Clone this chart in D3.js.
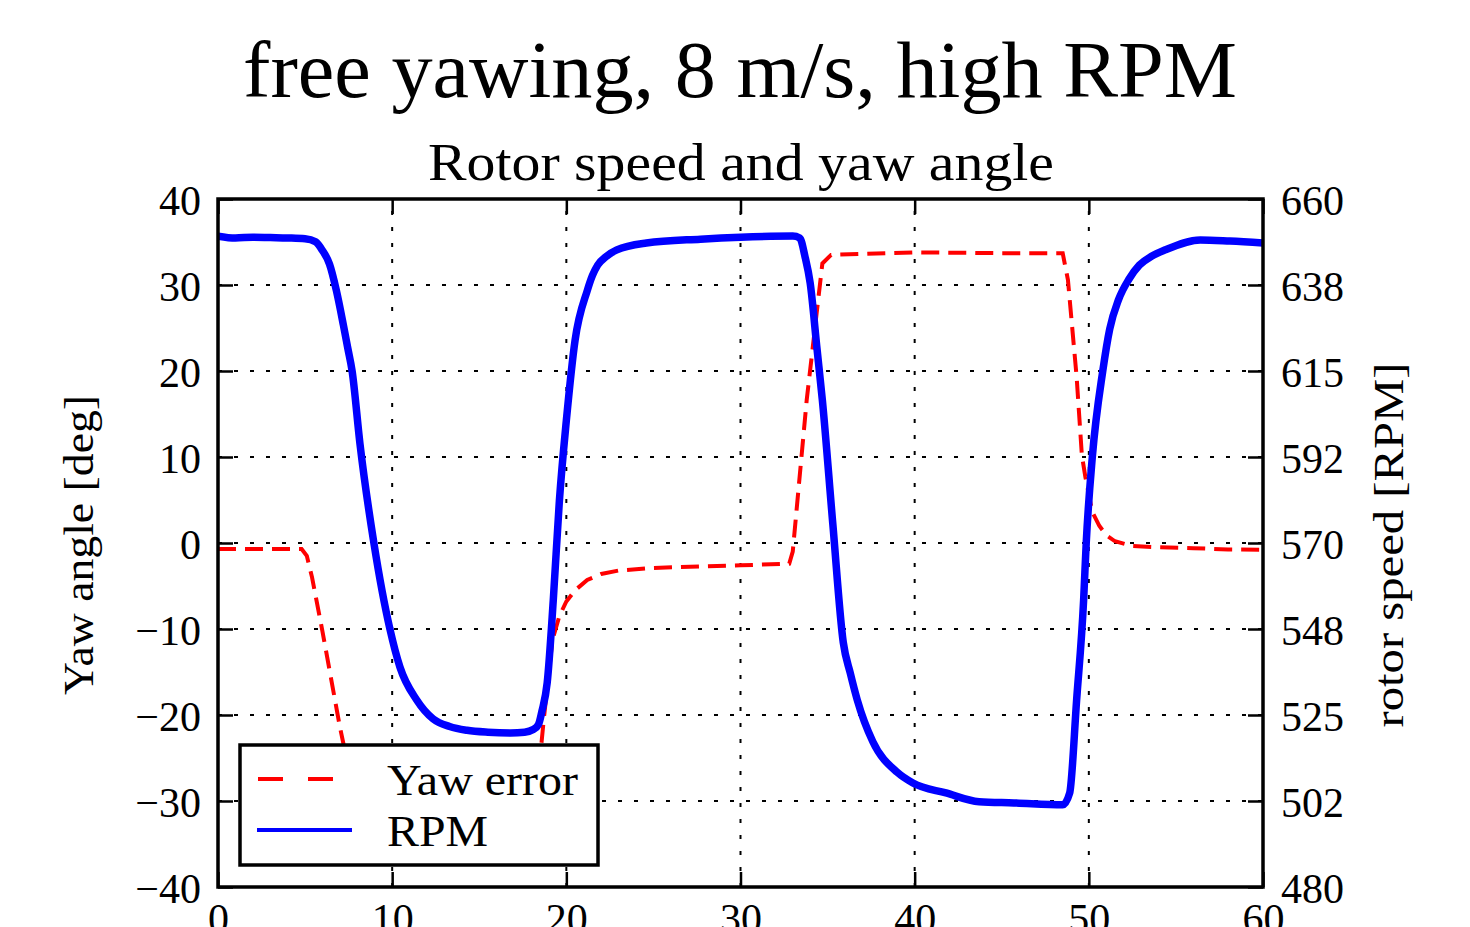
<!DOCTYPE html>
<html>
<head>
<meta charset="utf-8">
<script src="https://cdn.jsdelivr.net/npm/d3@7"></script>
<style>
  html, body { margin: 0; padding: 0; background: #fff; overflow: hidden; }
  svg { display: block; }
  text { font-family: "Liberation Serif", "DejaVu Serif", serif; fill: #000; }
</style>
</head>
<body>
<svg id="chart" width="1470" height="927"></svg>
<script>
// ---------------- data ----------------
const titleText = "free yawing, 8 m/s, high RPM";
const subtitleText = "Rotor speed and yaw angle";
const leftLabel = "Yaw angle [deg]";
const rightLabel = "rotor speed [RPM]";
const seriesNames = ["Yaw error", "RPM"];

const xTicks = [0, 10, 20, 30, 40, 50, 60];
const yLeftTicks = [-40, -30, -20, -10, 0, 10, 20, 30, 40];
const yRightTicks = [480, 502.5, 525, 547.5, 570, 592.5, 615, 637.5, 660];
const yRightTickLabels = ["480", "502", "525", "548", "570", "592", "615", "638", "660"];

// Yaw error [deg] vs time [s]
const yawTime = [0, 4.8, 5.1, 5.4, 6.0, 7.0, 8.0, 8.6, 12, 17.8, 18.3, 18.7, 19.2, 19.6, 20.0, 20.5, 21.2, 22, 23, 25, 28, 30, 32.8, 33.0, 33.8, 34.7, 35.2, 40, 45, 48.5, 48.8, 49.3, 49.6, 49.8, 50.2, 50.6, 51.0, 51.5, 52.5, 54, 56, 58, 60];
const yawValue = [-0.7, -0.7, -1.5, -4, -10.3, -21.4, -31, -33, -33.5, -33.5, -29, -20.6, -11.3, -8.5, -6.8, -5.5, -4.3, -3.6, -3.2, -2.9, -2.7, -2.6, -2.4, -1, 16.6, 32.5, 33.5, 33.8, 33.7, 33.7, 30.6, 19.3, 10.2, 7.7, 3.6, 2.0, 0.9, 0.2, -0.35, -0.5, -0.6, -0.75, -0.8];

// Rotor speed [RPM] vs time [s]
const rpmTime = [0, 1, 2, 3, 4, 5, 5.6, 6.0, 6.4, 6.8, 7.2, 7.45, 7.7, 8.15, 8.95, 9.87, 10.45, 11.4, 12.35, 13.3, 14.3, 15.5, 16.8, 17.6, 18.1, 18.4, 18.6, 18.9, 19.25, 19.6, 20.0, 20.5, 21.2, 21.5, 21.8, 22.3, 22.9, 24.6, 27.7, 30, 33.0, 33.4, 33.7, 34.0, 34.4, 34.7, 35.3, 35.9, 36.3, 36.7, 37.6, 39, 39.9, 41.8, 43.7, 45.7, 48.5, 48.9, 49.3, 49.7, 49.85, 50.2, 50.8, 51.2, 51.7, 52.3, 52.9, 53.6, 54.4, 56.4, 58.1, 60];
const rpmValue = [650.3, 649.8, 650, 649.9, 649.8, 649.6, 648.8, 646.5, 643, 636, 627, 621, 615, 596, 570, 547.5, 537.5, 529, 524, 522, 521, 520.5, 520.3, 520.5, 521.2, 522.5, 526, 533.4, 555, 581, 602, 623, 636, 640, 642.7, 645, 646.7, 648.5, 649.5, 650, 650.3, 649.8, 645, 638, 620.5, 607.4, 575, 544, 536, 529, 518, 510, 507.2, 504.6, 502.3, 502, 501.5, 504.6, 529, 555, 570, 592.5, 615, 626, 633.6, 639, 642.7, 645, 646.7, 649.3, 649, 648.5];

// ---------------- layout ----------------
const svg = d3.select("#chart");
const L = 218, R = 1263, T = 199, B = 887;

const x = d3.scaleLinear().domain([0, 60]).range([L, R]);
const yL = d3.scaleLinear().domain([-40, 40]).range([B, T]);
const yR = d3.scaleLinear().domain([480, 660]).range([B, T]);

const tickFont = 42;
const tickLen = 15;

// Titles
svg.append("text").attr("x", 740).attr("y", 97)
  .attr("text-anchor", "middle").style("font-size", "80px")
  .attr("textLength", 994).attr("lengthAdjust", "spacingAndGlyphs")
  .text(titleText);
svg.append("text").attr("x", 741).attr("y", 180)
  .attr("text-anchor", "middle").style("font-size", "52px")
  .attr("textLength", 626).attr("lengthAdjust", "spacingAndGlyphs")
  .text(subtitleText);

// Clip for plot area
svg.append("clipPath").attr("id", "plotclip")
  .append("rect").attr("x", L).attr("y", T).attr("width", R - L).attr("height", B - T);

// Grid (dotted)
const grid = svg.append("g").attr("stroke", "#000").attr("stroke-width", 2).attr("stroke-dasharray", "4,12");
grid.selectAll("line.gx").data(xTicks.slice(1, -1)).join("line")
  .attr("x1", d => x(d)).attr("x2", d => x(d)).attr("y1", B).attr("y2", T);
grid.selectAll("line.gy").data(yLeftTicks.slice(1, -1)).join("line")
  .attr("y1", d => yL(d)).attr("y2", d => yL(d)).attr("x1", L).attr("x2", R);

// Lines
const plot = svg.append("g").attr("clip-path", "url(#plotclip)");
const yawData = yawTime.map((t, i) => [t, yawValue[i]]);
const rpmData = rpmTime.map((t, i) => [t, rpmValue[i]]);

plot.append("path").datum(yawData)
  .attr("fill", "none").attr("stroke", "#ff0000").attr("stroke-width", 4)
  .attr("stroke-dasharray", "18,9")
  .attr("d", d3.line().x(d => x(d[0])).y(d => yL(d[1])));

plot.append("path").datum(rpmData)
  .attr("fill", "none").attr("stroke", "#0000ff").attr("stroke-width", 7.5)
  .attr("stroke-linejoin", "round")
  .attr("d", d3.line().curve(d3.curveMonotoneX).x(d => x(d[0])).y(d => yR(d[1])));

// Axes with inward ticks
const axB = svg.append("g").attr("transform", `translate(0,${B})`)
  .call(d3.axisBottom(x).tickValues(xTicks).tickSizeInner(-tickLen).tickSizeOuter(0).tickPadding(20));
const axT = svg.append("g").attr("transform", `translate(0,${T})`)
  .call(d3.axisTop(x).tickValues(xTicks).tickSizeInner(-tickLen).tickSizeOuter(0).tickFormat(""));
const axL = svg.append("g").attr("transform", `translate(${L},0)`)
  .call(d3.axisLeft(yL).tickValues(yLeftTicks).tickSizeInner(-tickLen).tickSizeOuter(0)
    .tickFormat(d => d < 0 ? "\u2212" + Math.abs(d) : String(d)));
const axR = svg.append("g").attr("transform", `translate(${R},0)`)
  .call(d3.axisRight(yR).tickValues(yRightTicks).tickSizeInner(-tickLen).tickSizeOuter(0)
    .tickFormat((d, i) => yRightTickLabels[i]));

[axB, axT, axL, axR].forEach(a => {
  a.select(".domain").remove();
  a.selectAll(".tick line").attr("stroke", "#000").attr("stroke-width", 2.5);
  a.selectAll("text").style("font-family", '"Liberation Serif", "DejaVu Serif", serif')
    .style("font-size", tickFont + "px").attr("fill", "#000");
});
axB.selectAll("text").attr("dy", null).attr("y", 46);
axL.selectAll("text").attr("x", -17).attr("dy", "0.36em");
axR.selectAll("text").attr("x", 18).attr("dy", "0.36em");

// Frame
svg.append("rect").attr("x", L).attr("y", T).attr("width", R - L).attr("height", B - T)
  .attr("fill", "none").attr("stroke", "#000").attr("stroke-width", 3.5);

// Axis labels
svg.append("text").attr("transform", `translate(93,545) rotate(-90)`)
  .attr("text-anchor", "middle").style("font-size", "42px")
  .attr("textLength", 300).attr("lengthAdjust", "spacingAndGlyphs")
  .text(leftLabel);
svg.append("text").attr("transform", `translate(1403,545) rotate(-90)`)
  .attr("text-anchor", "middle").style("font-size", "42px")
  .attr("textLength", 365).attr("lengthAdjust", "spacingAndGlyphs")
  .text(rightLabel);

// Legend
const lg = svg.append("g");
lg.append("rect").attr("x", 240).attr("y", 745).attr("width", 358).attr("height", 120)
  .attr("fill", "#fff").attr("stroke", "#000").attr("stroke-width", 3.5);
lg.append("line").attr("x1", 258).attr("x2", 334).attr("y1", 779).attr("y2", 779)
  .attr("stroke", "#ff0000").attr("stroke-width", 4).attr("stroke-dasharray", "25,25");
lg.append("line").attr("x1", 257).attr("x2", 352).attr("y1", 830).attr("y2", 830)
  .attr("stroke", "#0000ff").attr("stroke-width", 4);
lg.append("text").attr("x", 387).attr("y", 795).style("font-size", "44px")
  .attr("textLength", 191).attr("lengthAdjust", "spacingAndGlyphs").text(seriesNames[0]);
lg.append("text").attr("x", 387).attr("y", 846).style("font-size", "44px")
  .attr("textLength", 101).attr("lengthAdjust", "spacingAndGlyphs").text(seriesNames[1]);
</script>
</body>
</html>
